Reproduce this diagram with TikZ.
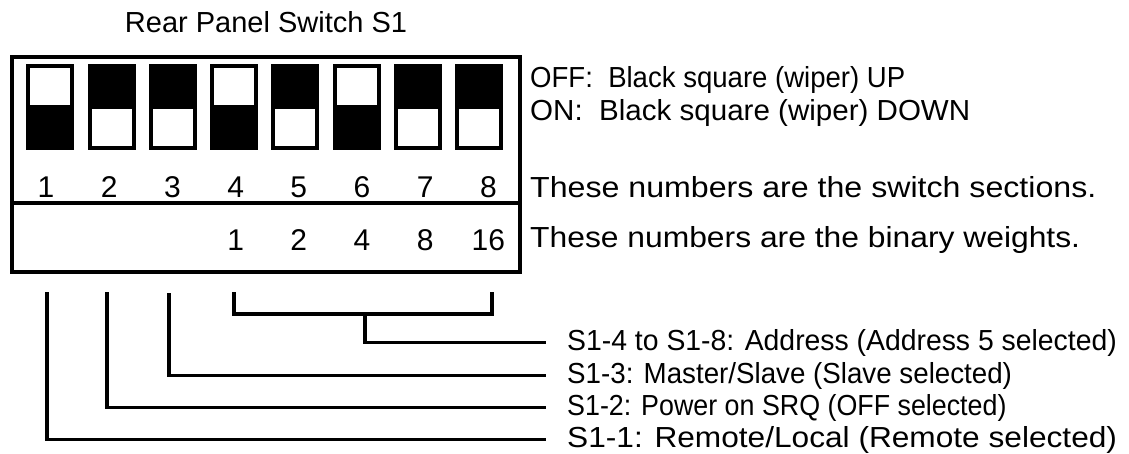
\documentclass[tikz,border=0pt]{standalone}
\usepackage{graphicx}
\usepackage{fontspec}
\setmainfont{Liberation Sans}
\begin{document}
\begin{tikzpicture}[x=1pt,y=-1pt,
  frame/.style={draw=black,line width=3.6pt},
  conn/.style={draw=black,line width=3.8pt},
  txt/.style={anchor=west,inner sep=0pt,font=\fontsize{29}{29}\selectfont},
  lab/.style={anchor=base west,inner sep=0pt,font=\fontsize{29}{29}\selectfont},
  num/.style={inner sep=0pt,font=\fontsize{30}{30}\selectfont},
  swbody/.style={fill=black,inner sep=0pt,minimum width=48pt,minimum height=86pt,anchor=north west},
  swwin/.style={fill=white,inner sep=0pt,minimum width=40pt,minimum height=37pt,anchor=north west}]
\useasboundingbox (0,0) rectangle (1129,454);

\node[anchor=base,inner sep=0pt,font=\fontsize{29}{29}\selectfont] (title) at (266,33) {Rear Panel Switch S1};

\node[frame,inner sep=0pt,minimum width=508pt,minimum height=215pt,anchor=north west] (box) at (10,55.5) {};
\coordinate (div) at (0,203);
\draw[frame] (box.west |- div) -- (box.east |- div);

\foreach \i/\s in {1/u,2/d,3/d,4/u,5/d,6/u,7/d,8/d}{
  \pgfmathsetmacro{\xx}{26+61.3*(\i-1)}
  \node[swbody] (sw\i) at (\xx,64) {};
  \if\s u
    \node[swwin] (win\i) at (\xx+4,68) {};
  \else
    \node[swwin] (win\i) at (\xx+4,109) {};
  \fi
  \pgfmathsetmacro{\nx}{46+63.2*(\i-1)}
  \node[num] (n\i) at (\nx,187) {\i};
}
\foreach \i/\w in {4/1,5/2,6/4,7/8,8/16}{
  \pgfmathsetmacro{\nx}{46+63.2*(\i-1)}
  \node[num] (w\i) at (\nx,240) {\w};
}

\node[txt] (off) at (530,80) {\scalebox{0.95}[1]{OFF:\ \ Black square (wiper) UP}};
\node[txt] (on) at (530,113) {\scalebox{1.019}[1]{ON:\ \ Black square (wiper) DOWN}};
\node[txt] (sec) at (530,187) {\scalebox{1.108}[1]{These numbers are the switch sections.}};
\node[txt] (bin) at (530,240) {\scalebox{1.097}[1]{These numbers are the binary weights.}};

\node[lab] (lab4) at (567,350) {\scalebox{0.978}[1]{S1-4 to S1-8: Address (Address 5 selected)}};
\node[lab] (lab3) at (567,383) {\scalebox{0.956}[1]{S1-3: Master/Slave (Slave selected)}};
\node[lab] (lab2) at (567,415) {\scalebox{0.925}[1]{S1-2: Power on SRQ (OFF selected)}};
\node[lab] (lab1) at (567,447) {\scalebox{1.091}[1]{S1-1: Remote/Local (Remote selected)}};

\coordinate (t1) at (47,292);
\coordinate (t2) at (107,292);
\coordinate (t3) at (169,293);
\coordinate (bl) at (234,292);
\coordinate (br) at (492,292);
\coordinate (bh) at (0,314);
\coordinate (stub) at (365,314);
\foreach \k in {1,2,3,4}{
  \coordinate (e\k) at ([xshift=-21pt,yshift=7.5pt]lab\k.base west);
}

\draw[conn] (bl) -- (bl |- bh) -- (br |- bh) -- (br);
\draw[conn] (stub) |- (e4);
\draw[conn] (t3) |- (e3);
\draw[conn] (t2) |- (e2);
\draw[conn] (t1) |- (e1);
\end{tikzpicture}
\end{document}
